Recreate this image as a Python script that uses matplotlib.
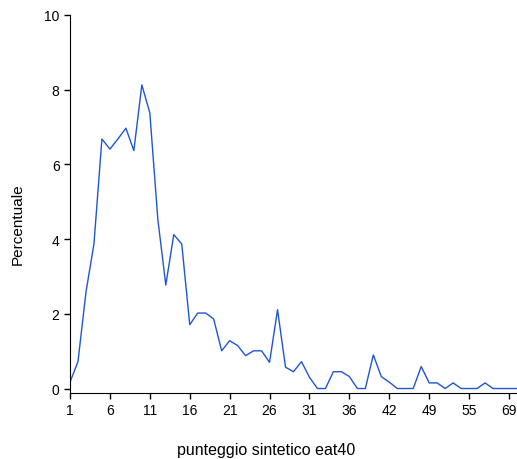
import matplotlib
matplotlib.use("Agg")
import matplotlib.pyplot as plt

plt.rcParams["font.family"] = ["Liberation Sans", "DejaVu Sans"]

# score categories observed (only every 5th is labelled on the axis)
scores = list(range(1, 37)) + [37, 38, 39, 41, 42, 43, 44, 45, 47, 49,
                               50, 51, 52, 54, 55, 56, 58, 60, 63, 69, 71]
percent = [0.17, 0.72, 2.58, 3.87, 6.68, 6.41, 6.68, 6.97, 6.37, 8.13,
           7.38, 4.54, 2.77, 4.12, 3.87, 1.71, 2.02, 2.02, 1.86, 1.01,
           1.28, 1.15, 0.88, 1.01, 1.01, 0.70, 2.11, 0.57, 0.45, 0.72,
           0.30, 0.0, 0.0, 0.45, 0.45, 0.32, 0.0, 0.0, 0.90, 0.32,
           0.17, 0.0, 0.0, 0.0, 0.59, 0.15, 0.15, 0.0, 0.15, 0.0,
           0.0, 0.0, 0.15, 0.0, 0.0, 0.0, 0.0]
y_ticks = [0, 2, 4, 6, 8, 10]

positions = list(range(len(scores)))

fig = plt.figure(figsize=(5.17, 4.6), dpi=100)
ax = fig.add_axes([70 / 517, 66 / 460, 447 / 517, 378 / 460])

ax.plot(positions, percent, color="#1f55d6", linewidth=1.0)

ax.set_xlim(0, len(scores) - 1)
ax.set_ylim(-0.12, 10)
ax.set_xticks(positions[::5])
ax.set_xticklabels([str(s) for s in scores[::5]])
ax.set_yticks(y_ticks)

ax.spines["top"].set_visible(False)
ax.spines["right"].set_visible(False)
ax.tick_params(axis="both", direction="out", length=4, width=1,
               labelsize=10, colors="black")
ax.tick_params(axis="x", pad=3)

# axis titles sit a little off the axes centre, as in the original
fig.text(18 / 517, 1 - 224 / 460, "Percentuale", fontsize=11,
         rotation=90, ha="center", va="center")
fig.text(266 / 517, 1 - 451 / 460, "punteggio sintetico eat40",
         fontsize=11.5, ha="center", va="center")

fig.savefig("out.png", dpi=100)
